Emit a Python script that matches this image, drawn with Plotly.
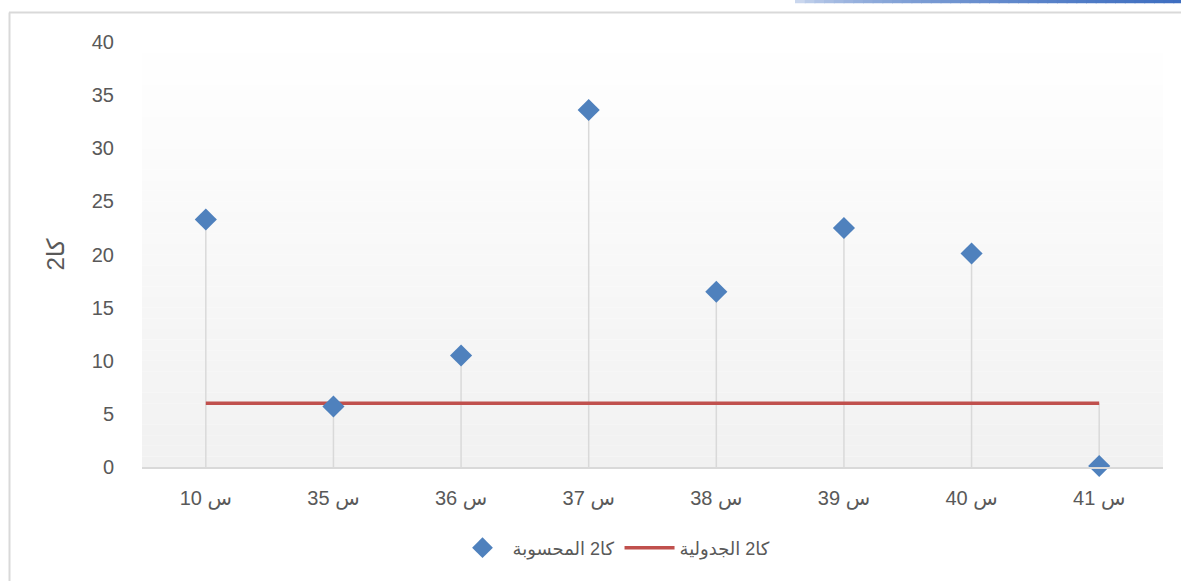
import plotly.graph_objects as go

# Categories (samples) and chi-square values
categories = ["س 10", "س 35", "س 36", "س 37", "س 38", "س 39", "س 40", "س 41"]
chi2_computed = [23.3, 5.7, 10.5, 33.6, 16.5, 22.5, 20.1, 0.1]
chi2_table = [5.99] * len(categories)

name_computed = "كا2 المحسوبة"
name_table = "كا2 الجدولية"
y_title = "كا2"
y_ticks = [0, 5, 10, 15, 20, 25, 30, 35, 40]

W, H = 1181, 581
L, R, T, B = 142, 18, 42, 114
plot_w = W - L - R
plot_h = H - T - B


def px_x(p):
    return (p - L) / plot_w


def px_y(p):
    return (H - B - p) / plot_h


FONT = "Liberation Sans, DejaVu Sans, Arial, sans-serif"
TXT = "#595959"

fig = go.Figure()

# Drop lines from the highest point in each category down to the axis
drop_x, drop_y = [], []
for c, v, t in zip(categories, chi2_computed, chi2_table):
    drop_x += [c, c, None]
    drop_y += [0, max(v, t), None]
fig.add_trace(go.Scatter(
    x=drop_x, y=drop_y, mode="lines",
    line=dict(color="#d9d9d9", width=1.5),
    showlegend=False, hoverinfo="skip",
))

# Critical (table) value
fig.add_trace(go.Scatter(
    x=categories, y=chi2_table, mode="lines", name=name_table,
    line=dict(color="#c0504d", width=3.5),
    legendrank=2,
))

# Computed values
fig.add_trace(go.Scatter(
    x=categories, y=chi2_computed, mode="markers", name=name_computed,
    marker=dict(symbol="diamond", size=17, color="#4f81bd"),
    cliponaxis=False, legendrank=1,
))

shapes = []
# Plot-area vertical gradient (white at top to light grey at bottom)
n_bands = 40
for i in range(n_bands):
    f = (i + 0.5) / n_bands
    g = round(255 - (255 - 241) * f)
    shapes.append(dict(
        type="rect", xref="paper", yref="paper",
        x0=0, x1=1, y0=1 - (i + 1) / n_bands, y1=1 - i / n_bands,
        fillcolor=f"rgb({g},{g},{g})", line=dict(width=0), layer="below",
    ))

# Chart frame: top and left edges
shapes.append(dict(type="line", xref="paper", yref="paper",
                   x0=px_x(9), x1=px_x(W + 2), y0=px_y(12.5), y1=px_y(12.5),
                   line=dict(color="#d9d9d9", width=2)))
shapes.append(dict(type="line", xref="paper", yref="paper",
                   x0=px_x(9.5), x1=px_x(9.5), y0=px_y(12.5), y1=px_y(H + 2),
                   line=dict(color="#d9d9d9", width=2)))

# Blue accent bar along the top right, fading in from the left
n_seg = 40
x_start, x_end = 795, W + 2
white = (255, 255, 255)
blue = (62, 110, 192)
for i in range(n_seg):
    a = min(1.0, ((i + 1) / n_seg) ** 0.35)
    col = tuple(round(w + (b - w) * a) for w, b in zip(white, blue))
    xa = x_start + (x_end - x_start) * i / n_seg
    xb = x_start + (x_end - x_start) * (i + 1) / n_seg
    shapes.append(dict(type="line", xref="paper", yref="paper",
                       x0=px_x(xa), x1=px_x(xb + 1), y0=px_y(1.5), y1=px_y(1.5),
                       line=dict(color=f"rgb{col}", width=3.5)))

fig.update_layout(
    width=W, height=H,
    margin=dict(l=L, r=R, t=T, b=B),
    paper_bgcolor="white",
    plot_bgcolor="rgba(0,0,0,0)",
    font=dict(family=FONT, color=TXT, size=19),
    shapes=shapes,
    showlegend=True,
    legend=dict(
        orientation="h", x=px_x(614), xanchor="center",
        y=px_y(548), yanchor="middle",
        font=dict(size=18, color=TXT), bgcolor="rgba(0,0,0,0)",
        itemwidth=50,
    ),
    xaxis=dict(
        type="category", categoryorder="array", categoryarray=categories,
        range=[-0.5, len(categories) - 0.5],
        showgrid=False, zeroline=False,
        showline=True, linecolor="#d9d9d9", linewidth=1.5,
        ticks="outside", ticklen=12, tickcolor="rgba(0,0,0,0)",
        tickfont=dict(size=20, color=TXT),
    ),
    yaxis=dict(
        range=[0, 40], tickvals=y_ticks,
        showgrid=False, zeroline=False, showline=False,
        ticks="outside", ticklen=23, tickcolor="rgba(0,0,0,0)",
        tickfont=dict(size=20, color=TXT),
        title=dict(text=y_title, font=dict(size=24, color=TXT), standoff=20),
    ),
)

fig.write_html("out.html")
